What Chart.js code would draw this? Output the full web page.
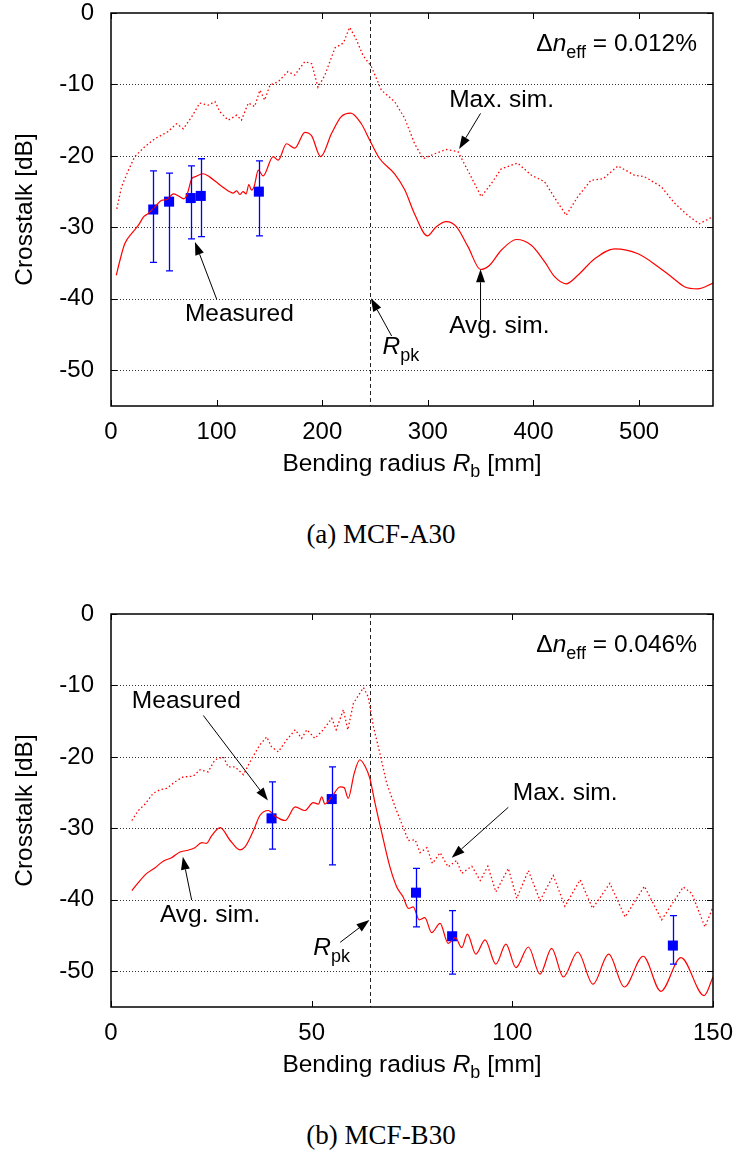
<!DOCTYPE html>
<html lang="en">
<head>
<meta charset="UTF-8">
<title>Crosstalk vs bending radius</title>
<script src="https://cdn.jsdelivr.net/npm/chart.js"></script>
<style>
  body { margin: 0; background: #fff; }
  #page { position: relative; width: 739px; height: 1153px; overflow: hidden; }
  .plot { position: absolute; left: 0; }
  .caption {
    position: absolute; left: 381px; transform: translateX(-50%); white-space: nowrap;
    font: 27px/27px "Liberation Serif", "Times New Roman", serif; color: #000;
  }
</style>
</head>
<body>
<div id="page">
  <canvas class="plot" id="chartA" width="739" height="490" style="top:0"></canvas>
  <div class="caption" style="top:521px">(a) MCF-A30</div>
  <canvas class="plot" id="chartB" width="739" height="490" style="top:601px"></canvas>
  <div class="caption" style="top:1122px">(b) MCF-B30</div>
</div>

<script>
// ---- tick values
const yTicks = [-50, -40, -30, -20, -10, 0];
const aXTicks = [0, 100, 200, 300, 400, 500];
const bXTicks = [0, 50, 100, 150];

// ---- (a) MCF-A30 : [bending radius mm, crosstalk dB]
const aAvgSim = [
  [5, -36.7], [8.5, -34.6], [13, -32.3], [21, -30.6], [26, -29.7], [31, -28.5], [35, -28.1],
  [43, -26.9], [48, -26.2], [53, -26.1], [59, -25.3], [64, -25.6], [69, -26], [72, -25.4],
  [76.5, -23.2], [80, -22.9], [87, -22.5], [93, -22.9], [100, -23.7], [106, -24.4], [111, -24.9],
  [115.5, -25.2], [119, -24.9], [122, -25.4], [125, -25], [128, -25.3], [130.5, -24], [133, -24.8],
  [135.5, -24.3], [139.5, -22], [144, -22.8], [153.5, -20.1], [158.3, -20.6], [166.2, -18.3],
  [174, -18.9], [183.6, -16.7], [190, -17.2], [198.5, -20.1], [209, -16.8], [218, -14.5],
  [227, -14], [237, -15.5], [245, -17.8], [254.5, -20.4], [268.5, -22.5], [278, -24.7],
  [288, -28.3], [299.5, -31.2], [308, -29.9], [317.5, -29.2], [327, -29.9], [338, -32.7],
  [350, -35.9], [358.5, -35.3], [369.5, -33.2], [384, -31.7], [398, -32.5], [410.5, -34.8],
  [420, -36.9], [431, -37.9], [442, -36.7], [458, -34.4], [477, -33], [499, -33.7], [518, -35.5],
  [530.5, -36.9], [543, -38.3], [555.5, -38.6], [570, -37.8]
];
const aMaxSim = [
  [5.5, -27.4], [10, -24.3], [16.5, -22], [22.5, -20.1], [32, -18.7], [41.5, -17.6], [54, -16.6],
  [62, -15.5], [68.5, -16.2], [76.5, -14.5], [84, -12.6], [92, -12.9], [98.5, -12.4], [103, -13.8],
  [111, -15], [119, -14.3], [123.5, -15], [130, -12.6], [136, -13.1], [141, -10.8], [145.5, -12.2],
  [150.5, -10.1], [158.5, -9.6], [167.5, -8.2], [174, -8.7], [183.5, -6.8], [190, -7.1],
  [196, -10.4], [202.5, -8.7], [212, -4.9], [220, -4.2], [226, -2], [232.5, -3.8], [238.5, -5.9],
  [246.5, -7.5], [256, -10.8], [268.5, -12.4], [278, -14.7], [287.5, -18.3], [295.5, -20.4],
  [306.5, -19.7], [317.5, -19.1], [328.5, -19.4], [339.5, -22.5], [350.5, -25.7], [360, -23.9],
  [369.5, -21.8], [385, -21], [398, -22.7], [410.5, -23.6], [421.5, -26.2], [431, -28.3],
  [442, -25.7], [454.5, -23.4], [466, -23.2], [480, -21.4], [495.5, -22.7], [505, -22.9],
  [521, -24.3], [533.5, -26.6], [546, -28.3], [557, -29.5], [570, -28.5]
];
const aMeasR = [40, 55, 75.5, 85, 140];
const aMeasDb = [-27.5, -26.4, -25.9, -25.6, -25];
const aMeasHi = [-22.1, -22.4, -21.4, -20.4, -20.7];
const aMeasLo = [-34.9, -36.1, -31.6, -31.3, -31.2];

// ---- (b) MCF-B30
const bAvgSim = [
  [5.2, -38.7], [6.8, -37.6], [8.9, -36.3], [11, -35.5], [13, -34.6], [15.1, -34.1], [17.2, -33.3],
  [18.9, -33.1], [20.9, -32.7], [22.6, -32], [23.8, -32.1], [25.1, -31], [27.2, -29.9], [29.7, -31.7],
  [32.1, -33], [33.4, -32.6], [35.5, -30.3], [37.1, -28.2], [39.2, -27.5], [40.9, -28.3], [43.4, -28.9],
  [45.9, -27], [48.3, -27.5], [50.4, -26.4], [51.7, -26.6], [52.5, -25.6], [53.3, -26.6], [55, -25.6],
  [57.1, -24.2], [58.1, -24.3], [59.1, -25.8], [60.6, -22.3], [62, -20.4], [63.3, -21.3], [64.5, -23],
  [65.8, -26.5], [67.5, -30.7], [69.5, -35.4], [71.2, -38.2], [72.8, -39.6], [74.1, -41.2], [75.3, -41],
  [76.8, -42.8], [78.2, -42.5], [79.9, -44.6], [82, -43.3], [84, -46.1], [85.8, -45.3], [87.4, -46.7],
  [88.8, -44.8], [90.9, -47.6], [93.2, -45.6], [95.9, -49], [98.4, -46.2], [100.9, -49.5], [104, -46.6],
  [106.9, -50.4], [109.8, -46.8], [112.7, -50.8], [116.3, -47.3], [120.1, -51.8], [124, -47.6],
  [127.9, -52.2], [132.6, -47.9], [137, -52.8], [142, -48.1], [147.8, -53.4], [150, -50.8]
];
const bMaxSim = [
  [5.2, -28.9], [6.8, -27.5], [8.5, -26.6], [10.5, -25.1], [12.2, -24.6], [13.9, -24.4], [15.9, -23.5],
  [18, -22.8], [20.5, -22.7], [22.2, -21.8], [24.2, -22.1], [25.9, -20.4], [28, -20], [29.2, -21.4],
  [30.9, -21.4], [33, -22.5], [35.1, -20.2], [37.1, -18.3], [38.8, -17.2], [40, -18.6], [41.7, -19.3],
  [43.8, -17.6], [45.9, -16.2], [47.5, -17.4], [48.8, -16.2], [50.8, -17.4], [52.9, -16.2], [55, -14.6],
  [56.1, -16.2], [57.9, -13.4], [59, -16.2], [60.4, -12.5], [62.9, -10.3], [64.1, -11.6], [65.4, -15.8],
  [67, -19.5], [68.7, -23.7], [70.8, -27], [72.4, -29.3], [74.1, -31.7], [75.8, -31.6], [77, -33.4],
  [78.7, -32.7], [80.1, -34.9], [82, -33.4], [84, -35.4], [86.1, -34.5], [87.4, -36.3], [89.9, -35.3],
  [92, -37.3], [93.9, -35.3], [95.9, -38.9], [99, -35.6], [101.1, -39.8], [104, -35.9], [106.9, -40.1],
  [110.2, -36.6], [113.1, -40.9], [116.9, -37.2], [120, -41.2], [124.3, -37.7], [128.1, -42.4],
  [132.9, -38.1], [137.2, -42.8], [142.6, -38.2], [144.7, -39.1], [148, -43.8], [150, -41]
];
const bMeasR = [40, 55, 76, 85, 140];
const bMeasDb = [-28.6, -25.9, -39, -45.1, -46.4];
const bMeasHi = [-23.5, -21.4, -35.6, -41.5, -42.2];
const bMeasLo = [-32.9, -35.1, -43.8, -50.4, -49];

const FAM = '"Liberation Sans", Arial, Helvetica, sans-serif';
const F_TXT = '24.5px ' + FAM;
const F_IT = 'italic 24.5px ' + FAM;
const F_SUB = '18px ' + FAM;

// text made of several runs: [text, font, dy]
function drawRuns(ctx, parts, x, y, align) {
    let w = 0;
    parts.forEach(p => { ctx.font = p[1]; w += ctx.measureText(p[0]).width; });
    let cx = align === 'right' ? x - w : (align === 'center' ? x - w / 2 : x);
    ctx.textAlign = 'left';
    ctx.textBaseline = 'alphabetic';
    parts.forEach(p => {
        ctx.font = p[1];
        ctx.fillText(p[0], cx, y + (p[2] || 0));
        cx += ctx.measureText(p[0]).width;
    });
}

function drawArrow(ctx, x1, y1, x2, y2) {
    const ang = Math.atan2(y2 - y1, x2 - x1);
    const L = 13, W = 4.5;
    const bx = x2 - L * Math.cos(ang), by = y2 - L * Math.sin(ang);
    ctx.beginPath();
    ctx.moveTo(x1, y1);
    ctx.lineTo(bx, by);
    ctx.stroke();
    ctx.beginPath();
    ctx.moveTo(x2, y2);
    ctx.lineTo(bx + W * Math.sin(ang), by - W * Math.cos(ang));
    ctx.lineTo(bx - W * Math.sin(ang), by + W * Math.cos(ang));
    ctx.closePath();
    ctx.fill();
}

// grid, R_pk line, error bars, frame, titles and notes
function decor(cfg) {
    return {
        id: 'decor',
        beforeDatasetsDraw(chart) {
            const { ctx, chartArea: a, scales: { x, y } } = chart;
            ctx.save();
            ctx.strokeStyle = '#333';
            ctx.lineWidth = 1;
            ctx.setLineDash([1, 2]);
            y.ticks.forEach(t => {
                if (t.value >= 0) return;
                const py = Math.round(y.getPixelForValue(t.value)) + 0.5;
                ctx.beginPath(); ctx.moveTo(a.left, py); ctx.lineTo(a.right, py); ctx.stroke();
            });
            ctx.setLineDash([4, 3]);
            ctx.strokeStyle = '#222';
            const px = Math.round(x.getPixelForValue(cfg.rpk)) + 0.5;
            ctx.beginPath(); ctx.moveTo(px, a.top); ctx.lineTo(px, a.bottom); ctx.stroke();
            ctx.restore();
        },
        afterDatasetsDraw(chart) {
            const { ctx, scales: { x, y } } = chart;
            ctx.save();
            ctx.strokeStyle = '#0000ff';
            ctx.lineWidth = 1.3;
            cfg.measR.forEach((r, i) => {
                const px = Math.round(x.getPixelForValue(r)) + 0.5;
                const y1 = y.getPixelForValue(cfg.measHi[i]);
                const y2 = y.getPixelForValue(cfg.measLo[i]);
                ctx.beginPath();
                ctx.moveTo(px, y1); ctx.lineTo(px, y2);
                ctx.moveTo(px - 3.5, y1); ctx.lineTo(px + 3.5, y1);
                ctx.moveTo(px - 3.5, y2); ctx.lineTo(px + 3.5, y2);
                ctx.stroke();
            });
            ctx.restore();
        },
        afterDraw(chart) {
            const { ctx, chartArea: a, scales: { x, y } } = chart;
            ctx.save();
            ctx.strokeStyle = '#000';
            ctx.fillStyle = '#000';
            ctx.lineWidth = 1;
            // inner ticks on all four sides
            ctx.beginPath();
            x.ticks.forEach(t => {
                const px = Math.round(x.getPixelForValue(t.value)) + 0.5;
                ctx.moveTo(px, a.bottom); ctx.lineTo(px, a.bottom - 6);
                ctx.moveTo(px, a.top); ctx.lineTo(px, a.top + 6);
            });
            y.ticks.forEach(t => {
                const py = Math.round(y.getPixelForValue(t.value)) + 0.5;
                ctx.moveTo(a.left, py); ctx.lineTo(a.left + 6, py);
                ctx.moveTo(a.right, py); ctx.lineTo(a.right - 6, py);
            });
            ctx.stroke();
            ctx.lineWidth = 1.5;
            ctx.strokeRect(a.left, a.top, a.right - a.left, a.bottom - a.top);

            // axis titles
            ctx.save();
            ctx.translate(32, (a.top + a.bottom) / 2);
            ctx.rotate(-Math.PI / 2);
            drawRuns(ctx, [['Crosstalk [dB]', F_TXT]], 0, 0, 'center');
            ctx.restore();
            drawRuns(ctx, [['Bending radius ', F_TXT], ['R', F_IT], ['b', F_SUB, 6], [' [mm]', F_TXT]],
                (a.left + a.right) / 2, 471, 'center');

            // delta n_eff
            drawRuns(ctx, [['\u0394', F_TXT], ['n', F_IT], ['eff', F_SUB, 7], [' = ' + cfg.dn, F_TXT]],
                a.right - 16, a.top + 38, 'right');

            // annotations with arrows (positions in data units)
            ctx.lineWidth = 1;
            cfg.notes.forEach(n => {
                const tx = x.getPixelForValue(n.at[0]), ty = y.getPixelForValue(n.at[1]);
                if (n.rpk) {
                    drawRuns(ctx, [['R', F_IT], ['pk', F_SUB, 6.5]], tx, ty, 'left');
                } else {
                    drawRuns(ctx, [[n.text, F_TXT]], tx, ty, 'left');
                }
                drawArrow(ctx, x.getPixelForValue(n.from[0]), y.getPixelForValue(n.from[1]),
                    x.getPixelForValue(n.to[0]), y.getPixelForValue(n.to[1]));
            });
            ctx.restore();
        }
    };
}

function toPts(list) {
    return list.map(p => ({ x: p[0], y: p[1] }));
}

function makeChart(id, cfg) {
    const tickFont = { family: FAM, size: 24, lineHeight: 1 };
    return new Chart(document.getElementById(id), {
        type: 'line',
        data: {
            datasets: [
                { data: toPts(cfg.maxSim), borderColor: '#ff0000', borderWidth: 1.3, borderDash: [1.5, 2.5], pointRadius: 0, tension: 0 },
                { data: toPts(cfg.avgSim), borderColor: '#ff0000', borderWidth: 1.2, pointRadius: 0, cubicInterpolationMode: 'monotone' },
                {
                    data: cfg.measR.map((r, i) => ({ x: r, y: cfg.measDb[i] })),
                    showLine: false, pointStyle: 'rect', pointRadius: 7.1,
                    backgroundColor: '#0000ff', borderWidth: 0
                }
            ]
        },
        options: {
            responsive: false,
            animation: false,
            events: [],
            layout: { padding: { top: 13, right: 26, left: 0, bottom: 0 } },
            plugins: { legend: { display: false }, tooltip: { enabled: false } },
            scales: {
                x: {
                    type: 'linear', bounds: 'data', min: 0, max: cfg.xMax,
                    grid: { display: false, drawTicks: false }, border: { display: false },
                    ticks: { padding: 14, maxRotation: 0, autoSkip: false, color: '#000', font: tickFont },
                    afterBuildTicks: s => { s.ticks = cfg.xTicks.map(v => ({ value: v })); },
                    afterFit: s => { s.height = 84; s.paddingLeft = 0; s.paddingRight = 0; }
                },
                y: {
                    type: 'linear', bounds: 'data', min: -55, max: 0,
                    grid: { display: false, drawTicks: false }, border: { display: false },
                    ticks: { padding: 17, color: '#000', font: tickFont },
                    afterBuildTicks: s => { s.ticks = yTicks.map(v => ({ value: v })); },
                    afterFit: s => { s.width = 111; s.paddingTop = 0; s.paddingBottom = 0; }
                }
            }
        },
        plugins: [decor(cfg)]
    });
}

makeChart('chartA', {
    avgSim: aAvgSim, maxSim: aMaxSim,
    measR: aMeasR, measDb: aMeasDb, measHi: aMeasHi, measLo: aMeasLo,
    xMax: 570, xTicks: aXTicks, rpk: 245.4, dn: '0.012%',
    notes: [
        { text: 'Max. sim.', at: [320.2, -13.2], from: [349.9, -14.05], to: [329.6, -19.03] },
        { text: 'Measured', at: [70, -43.07], from: [100, -40.03], to: [79.5, -32.05] },
        { text: 'Avg. sim.', at: [320.2, -44.83], from: [349.9, -42.97], to: [349.9, -35.87] },
        { rpk: true, at: [257.1, -47.73], from: [265.7, -45.2], to: [246.1, -39.93] }
    ]
});

makeChart('chartB', {
    avgSim: bAvgSim, maxSim: bMaxSim,
    measR: bMeasR, measDb: bMeasDb, measHi: bMeasHi, measLo: bMeasLo,
    xMax: 150, xTicks: bXTicks, rpk: 64.5, dn: '0.046%',
    notes: [
        { text: 'Measured', at: [5.2, -13.2], from: [23, -14.2], to: [39.1, -26.1] },
        { text: 'Max. sim.', at: [100.1, -26.1], from: [99, -27.05], to: [84.9, -34.1] },
        { text: 'Avg. sim.', at: [12.2, -43.07], from: [20.1, -40.03], to: [17.9, -33.97] },
        { rpk: true, at: [50.4, -47.73], from: [57.1, -45.95], to: [64.4, -42.83] }
    ]
});
</script>
</body>
</html>
